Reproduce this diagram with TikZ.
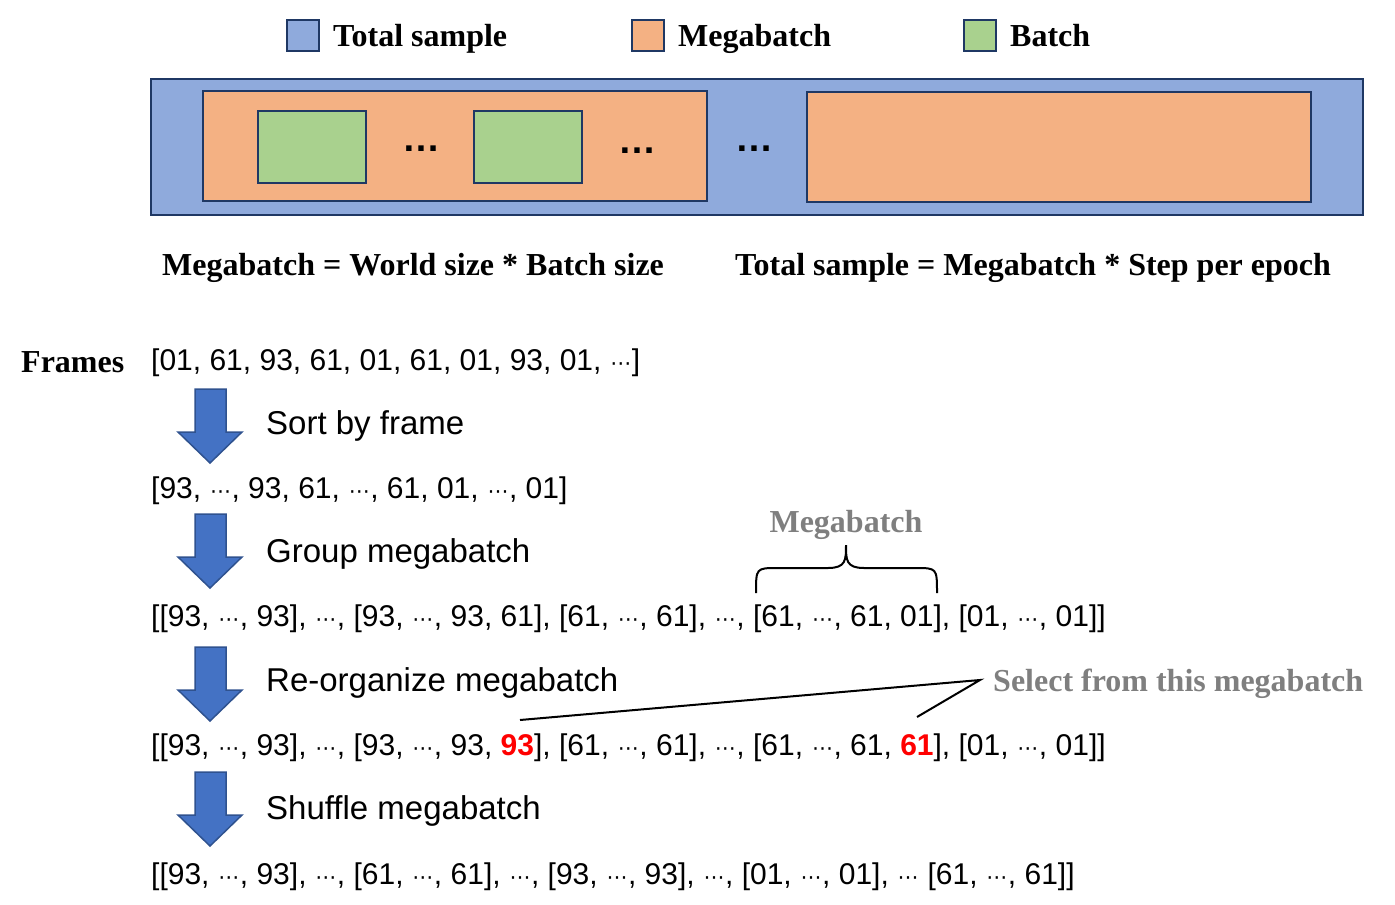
\documentclass[tikz,border=0pt]{standalone}
\usepackage{fontspec}
\setmainfont{Liberation Serif}
\newfontfamily\sansf{Liberation Sans}
\newfontfamily\dejavu{DejaVu Sans}
\definecolor{blueF}{HTML}{8FAADC}
\definecolor{orangeF}{HTML}{F4B183}
\definecolor{greenF}{HTML}{A9D18E}
\definecolor{borderC}{HTML}{1F3864}
\definecolor{arrowF}{HTML}{4472C4}
\definecolor{arrowB}{HTML}{2F528F}
\definecolor{greyT}{HTML}{7F7F7F}
\definecolor{redT}{HTML}{FF0000}
\newcommand\dd{\makebox[22pt]{\dejavu\fontsize{21}{21}\selectfont ⋯}}
\newcommand\rd[1]{\textcolor{redT}{\textbf{#1}}}
\begin{document}
\begin{tikzpicture}[x=1pt,y=-1pt,
  boxS/.style={draw=borderC, line width=2pt, anchor=north west, inner sep=0pt},
  legbox/.style={draw=borderC, line width=2pt, minimum width=32pt, minimum height=31pt, inner sep=0pt},
  legtxt/.style={anchor=base west, inner sep=0pt, font=\fontsize{32}{36}\selectfont\bfseries},
  formula/.style={anchor=west, inner sep=0pt, font=\fontsize{32}{36}\selectfont\bfseries},
  listtxt/.style={anchor=west, inner sep=0pt, font=\sansf\fontsize{30}{34}\selectfont},
  steptxt/.style={anchor=west, inner sep=0pt, font=\sansf\fontsize{33}{37}\selectfont},
  greytxt/.style={inner sep=0pt, text=greyT, font=\fontsize{32}{36}\selectfont\bfseries},
  dotstxt/.style={inner sep=0pt, anchor=base, font=\sansf\fontsize{38}{40}\selectfont\bfseries},
  bigarrow/.style={fill=arrowF, draw=arrowB, line width=1.5pt, line join=miter},
  thinline/.style={line width=2pt, black}
]
\useasboundingbox (0,0) rectangle (1395,905);

% legend
\node[legbox, fill=blueF] (lb1) at (303,35) {};
\node[legtxt] (lt1) at (333,46.5) {Total sample};
\node[legbox, fill=orangeF] (lb2) at (648,35.5) {};
\node[legtxt] (lt2) at (678,46.5) {Megabatch};
\node[legbox, fill=greenF] (lb3) at (980,35.5) {};
\node[legtxt] (lt3) at (1010,46.5) {Batch};

% top structure
\node[boxS, fill=blueF, minimum width=1212pt, minimum height=136pt] (total) at (150,78) {};
\node[boxS, fill=orangeF, minimum width=504pt, minimum height=110pt] (mb1) at (202,90) {};
\node[boxS, fill=orangeF, minimum width=504pt, minimum height=110pt] (mb2) at (806,91) {};
\node[boxS, fill=greenF, minimum width=108pt, minimum height=72pt] (b1) at (257,110) {};
\node[boxS, fill=greenF, minimum width=108pt, minimum height=72pt] (b2) at (473,110) {};
\node[dotstxt] (d1) at (421,151) {…};
\node[dotstxt] (d2) at (637,153) {…};
\node[dotstxt] (d3) at (754,151) {…};

% formulas
\node[formula] (f1) at (162,268) {Megabatch = World size * Batch size};
\node[formula] (f2) at (735,268) {Total sample = Megabatch * Step per epoch};

% frames
\node[anchor=west, inner sep=0pt, font=\fontsize{32}{36}\selectfont\bfseries] (frames) at (21,362) {Frames};
\node[listtxt] (l1) at (151,363) {[01, 61, 93, 61, 01, 61, 01, 93, 01, \dd]};

% arrows
\foreach \yt in {389,514,647,772}{
  \draw[bigarrow] (195,\yt) -- (226,\yt) -- (226,\yt+43) -- (242,\yt+43) -- (210,\yt+74)
     -- (178,\yt+43) -- (195,\yt+43) -- cycle;
}

\node[steptxt] (s1) at (266,426) {Sort by frame};
\node[listtxt] (l2) at (151,491) {[93, \dd, 93, 61, \dd, 61, 01, \dd, 01]};
\node[steptxt] (s2) at (266,554) {Group megabatch};
\node[listtxt] (l3) at (151,619) {[[93, \dd, 93], \dd, [93, \dd, 93, 61], [61, \dd, 61], \dd, [61, \dd, 61, 01], [01, \dd, 01]]};
\node[steptxt] (s3) at (266,683) {Re-organize megabatch};
\node[listtxt] (l4) at (151,748) {[[93, \dd, 93], \dd, [93, \dd, 93, \rd{93}], [61, \dd, 61], \dd, [61, \dd, 61, \rd{61}], [01, \dd, 01]]};
\node[steptxt] (s4) at (266,811) {Shuffle megabatch};
\node[listtxt] (l5) at (151,877) {[[93, \dd, 93], \dd, [61, \dd, 61], \dd, [93, \dd, 93], \dd, [01, \dd, 01], \dd{} [61, \dd, 61]]};

% brace and megabatch label
\draw[thinline] (756,593) .. controls (756,568) .. (778,568) -- (828,568)
   .. controls (846,568) and (846,560) .. (846,545)
   .. controls (846,560) and (846,568) .. (864,568) -- (915,568)
   .. controls (937,568) .. (937,593);
\node[greytxt] (mbl) at (846,525) {Megabatch};

% select lines
\node[greytxt, anchor=west] (sel) at (993,684) {Select from this megabatch};
\coordinate (selc) at (980,680);
\coordinate (p93) at (520,720);
\coordinate (p61) at (917,717);
\draw[thinline] (p93) -- (selc) -- (p61);
\end{tikzpicture}
\end{document}
